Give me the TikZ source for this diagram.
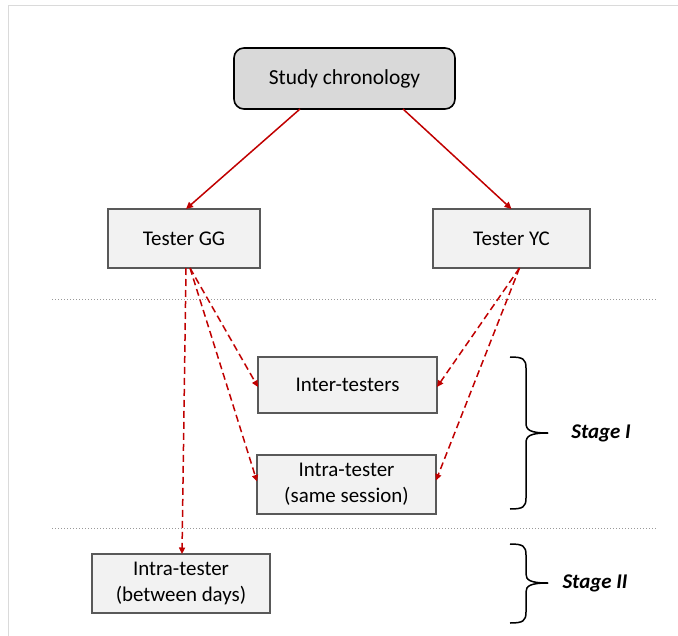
\documentclass[tikz,border=0pt]{standalone}
\usepackage{fontspec}
\setmainfont{Carlito}
\usetikzlibrary{arrows.meta}
\definecolor{arrred}{HTML}{C00000}
\definecolor{boxfill}{HTML}{F2F2F2}
\definecolor{topfill}{HTML}{D9D9D9}
\definecolor{boxline}{HTML}{595959}
\definecolor{frameline}{HTML}{DADADA}
\tikzset{
  box/.style={draw=boxline, line width=1.1bp, fill=boxfill, inner sep=0pt, outer sep=0pt, align=center,
    font=\fontsize{21}{26.5}\selectfont},
  topbox/.style={draw=black, line width=1.6bp, fill=topfill, rounded corners=10bp, inner sep=0pt, outer sep=0pt,
    minimum width=221bp, minimum height=61bp, font=\fontsize{21.5}{26}\selectfont},
  solidarr/.style={draw=arrred, line width=1.5bp, -{Triangle[length=7bp,width=6.5bp]}},
  dasharr/.style={draw=arrred, line width=1.5bp, dash pattern=on 7bp off 4bp, -{Triangle[length=6.5bp,width=6bp]}},
  sepline/.style={draw=gray!80, line width=0.9bp, dash pattern=on 1bp off 2bp},
  bracestyle/.style={draw=black, line width=1.5bp},
  stagelabel/.style={font=\fontsize{21}{26}\selectfont\bfseries\itshape, inner sep=0pt}
}
\begin{document}
\begin{tikzpicture}[x=1bp,y=-1bp]
\useasboundingbox (0,0) rectangle (678,636);
% frame
\draw[frameline, line width=1.5bp] (8.5,636) -- (8.5,5.5) -- (678,5.5);
% separators
\draw[sepline] (52,299) -- (658,299);
\draw[sepline] (52,528) -- (658,528);
% nodes
\node[topbox] (study) at (344.5,78.5) {Study chronology};
\node[box, minimum width=152bp, minimum height=59bp] (gg) at (184,238.5) {Tester GG};
\node[box, minimum width=157bp, minimum height=59bp] (yc) at (511.5,238.5) {Tester YC};
\node[box, minimum width=179bp, minimum height=56bp] (inter) at (347.5,385) {Inter-testers};
\node[box, minimum width=179bp, minimum height=59bp] (same) at (346.5,484.5) {Intra-tester\\(same session)};
\node[box, minimum width=178bp, minimum height=59bp] (days) at (181,583.5) {Intra-tester\\(between days)};
% solid arrows
\draw[solidarr] ([xshift=-44.5bp]study.south) -- ([xshift=2bp]gg.north);
\draw[solidarr] ([xshift=58.5bp]study.south) -- ([xshift=0bp]yc.north);
% dashed arrows
\draw[dasharr] ([xshift=2bp]gg.south) -- ([xshift=1bp]days.north);
\draw[dasharr] ([xshift=6bp]gg.south) -- ([yshift=-2bp]inter.west);
\draw[dasharr] ([xshift=6bp]gg.south) -- ([yshift=3bp]same.west);
\draw[dasharr] ([xshift=8bp]yc.south) -- ([yshift=-2bp]inter.east);
\draw[dasharr] ([xshift=8bp]yc.south) -- ([yshift=4bp]same.east);
% braces
\coordinate (tipone) at (548,433);
\coordinate (tiptwo) at (548,583);
\draw[bracestyle] (510,357) .. controls (523,357) and (526,359) .. (526,368) -- (526,423)
  .. controls (526,430) and (530,433) .. (tipone);
\draw[bracestyle] (510,509) .. controls (523,509) and (526,507) .. (526,498) -- (526,443)
  .. controls (526,436) and (530,433) .. (tipone);
\draw[bracestyle] (510,544) .. controls (523,544) and (526,546) .. (526,555) -- (526,574)
  .. controls (526,580) and (530,583) .. (tiptwo);
\draw[bracestyle] (510,623) .. controls (523,623) and (526,621) .. (526,612) -- (526,592)
  .. controls (526,586) and (530,583) .. (tiptwo);
\node[stagelabel] (stageone) at (601,433) {Stage I};
\node[stagelabel] (stagetwo) at (595,583) {Stage II};
\end{tikzpicture}
\end{document}
